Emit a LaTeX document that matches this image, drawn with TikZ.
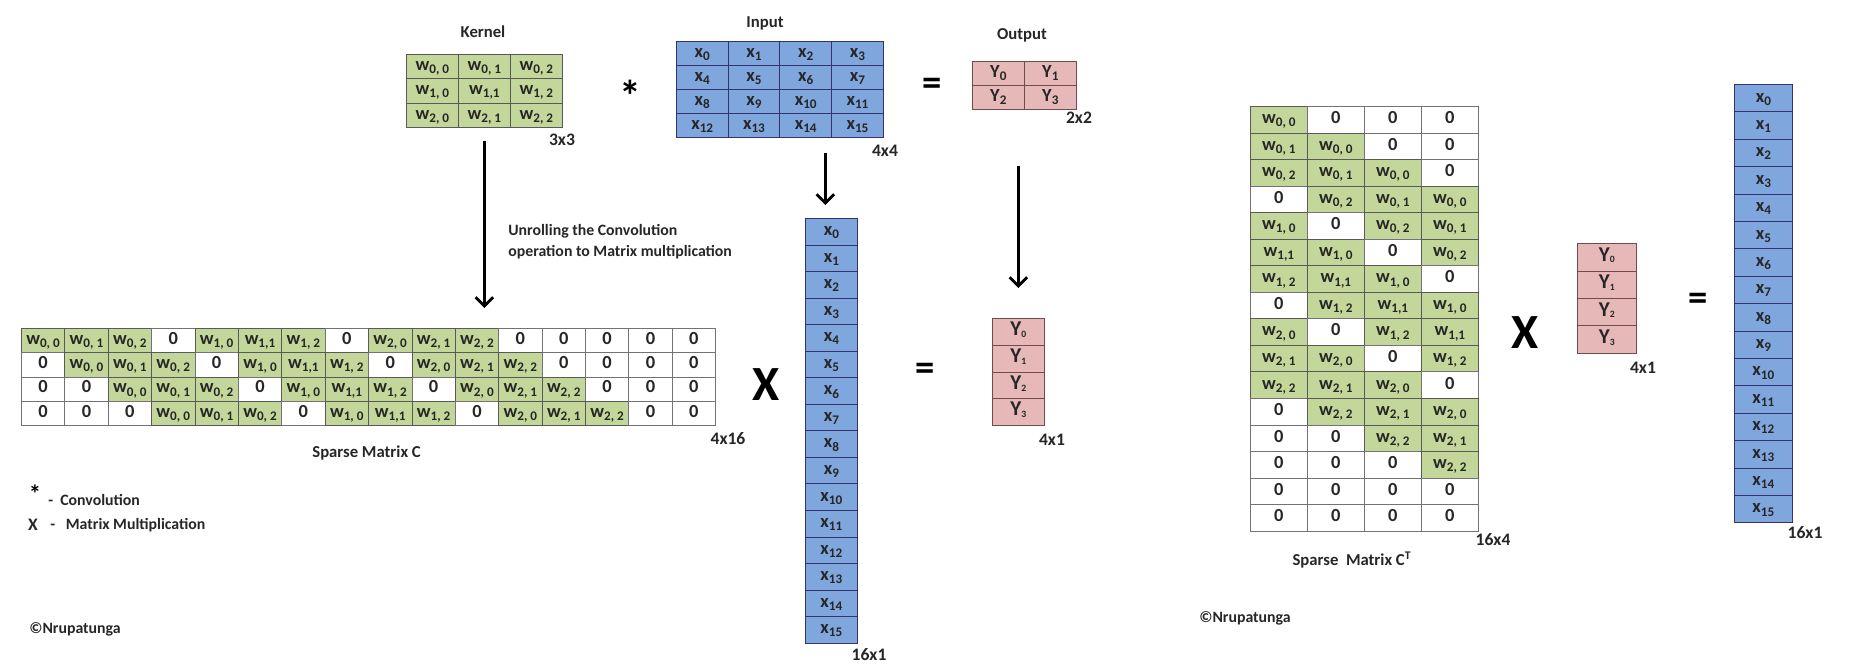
\documentclass[tikz,border=0pt]{standalone}
\usepackage{fontspec}
\setmainfont{Carlito}
\usetikzlibrary{positioning}
\usetikzlibrary{arrows.meta}
\usetikzlibrary{matrix}
\definecolor{wgreen}{RGB}{196,215,155}
\definecolor{xblue}{RGB}{127,166,221}
\definecolor{ypink}{RGB}{230,185,184}
\definecolor{ink}{RGB}{38,38,38}
\newcommand{\lowidx}[1]{\raisebox{-0.35ex}{\fontsize{7.5}{8}\selectfont #1}}
\newcommand{\wt}[1]{w\lowidx{#1}}
\newcommand{\xt}[1]{x\lowidx{#1}}
\newcommand{\yt}[1]{Y\lowidx{#1}}
\newcommand{\ysm}[1]{{\fontsize{12}{12}\selectfont Y}\raisebox{-0.2ex}{\fontsize{5.5}{6}\selectfont #1}}

\begin{document}
\begin{tikzpicture}[
    x=0.02cm, y=-0.02cm,
    cellgrid/.style 2 args={matrix of nodes, inner sep=0pt, outer sep=0pt,
        column sep=-\pgflinewidth, row sep=-\pgflinewidth,
        nodes={draw, minimum width=#1, minimum height=#2, inner sep=0pt, anchor=center,
            text height=1.45ex, text depth=0.5ex, text=ink, font=\bfseries\fontsize{10.5}{12}\selectfont}},
    wgrid/.style={nodes={fill=wgreen, draw=black!65}},
    xgrid/.style={nodes={fill=xblue, draw=blue!30!black!80}},
    ygrid/.style={nodes={fill=ypink, draw=red!20!black!70}},
    zc/.style={fill=white, draw=black!55},
    ttl/.style={inner sep=0pt, text=ink, font=\bfseries\fontsize{9.5}{11}\selectfont},
    dimlbl/.style={inner sep=0pt, text=ink, font=\bfseries\fontsize{10}{12}\selectfont},
    note/.style={inner sep=0pt, text=ink, align=left, font=\bfseries\fontsize{9}{12}\selectfont},
    opsym/.style={inner sep=0pt, font=\bfseries\fontsize{28}{30}\selectfont},
    arr/.style={line width=1.6pt, -{Straight Barb[length=5pt, width=10pt]}}
]
    \useasboundingbox (0,0) rectangle (1865,667);

    % convolution: kernel * input = output
    \matrix (kernel) [cellgrid={1.04cm}{0.486cm}, wgrid, anchor=north west] at (406,54) {
        \wt{0, 0} & \wt{0, 1} & \wt{0, 2} \\
        \wt{1, 0} & \wt{1,1}  & \wt{1, 2} \\
        \wt{2, 0} & \wt{2, 1} & \wt{2, 2} \\
    };
    \matrix (input) [cellgrid={1.035cm}{0.48cm}, xgrid, anchor=north west] at (676,41) {
        \xt{0}  & \xt{1}  & \xt{2}  & \xt{3}  \\
        \xt{4}  & \xt{5}  & \xt{6}  & \xt{7}  \\
        \xt{8}  & \xt{9}  & \xt{10} & \xt{11} \\
        \xt{12} & \xt{13} & \xt{14} & \xt{15} \\
    };
    \matrix (output) [cellgrid={1.04cm}{0.48cm}, ygrid, anchor=north west] at (972,61) {
        \yt{0} & \yt{1} \\
        \yt{2} & \yt{3} \\
    };
    \node[ttl] (kerneltitle) at (483,32) {Kernel};
    \node[ttl] (inputtitle) at (765,23) {Input};
    \node[ttl] (outputtitle) at (1022,35) {Output};
    \node[dimlbl] (kerneldim) at (562,140) {3x3};
    \node[dimlbl] (inputdim) at (885,151) {4x4};
    \node[dimlbl] (outputdim) at (1079,118) {2x2};
    \node[opsym, font=\bfseries\fontsize{25}{26}\selectfont] (conv) at (630,96) {*};
    \node[opsym, font=\bfseries\fontsize{22}{24}\selectfont] (eqtop) at (932,87) {=};

    % unrolled: sparse C x column = column
    \matrix (sparse) [cellgrid={0.868cm}{0.485cm}, wgrid, anchor=north west] at (21,328) {
        \wt{0, 0} & \wt{0, 1} & \wt{0, 2} & |[zc]| 0 & \wt{1, 0} & \wt{1,1} & \wt{1, 2} & |[zc]| 0 & \wt{2, 0} & \wt{2, 1} & \wt{2, 2} & |[zc]| 0 & |[zc]| 0 & |[zc]| 0 & |[zc]| 0 & |[zc]| 0 \\
        |[zc]| 0 & \wt{0, 0} & \wt{0, 1} & \wt{0, 2} & |[zc]| 0 & \wt{1, 0} & \wt{1,1} & \wt{1, 2} & |[zc]| 0 & \wt{2, 0} & \wt{2, 1} & \wt{2, 2} & |[zc]| 0 & |[zc]| 0 & |[zc]| 0 & |[zc]| 0 \\
        |[zc]| 0 & |[zc]| 0 & \wt{0, 0} & \wt{0, 1} & \wt{0, 2} & |[zc]| 0 & \wt{1, 0} & \wt{1,1} & \wt{1, 2} & |[zc]| 0 & \wt{2, 0} & \wt{2, 1} & \wt{2, 2} & |[zc]| 0 & |[zc]| 0 & |[zc]| 0 \\
        |[zc]| 0 & |[zc]| 0 & |[zc]| 0 & \wt{0, 0} & \wt{0, 1} & \wt{0, 2} & |[zc]| 0 & \wt{1, 0} & \wt{1,1} & \wt{1, 2} & |[zc]| 0 & \wt{2, 0} & \wt{2, 1} & \wt{2, 2} & |[zc]| 0 & |[zc]| 0 \\
    };
    \matrix (xcol) [cellgrid={1.04cm}{0.531cm}, xgrid, anchor=north west] at (805,218) {
        \xt{0} \\ \xt{1} \\ \xt{2} \\ \xt{3} \\ \xt{4} \\ \xt{5} \\ \xt{6} \\ \xt{7} \\
        \xt{8} \\ \xt{9} \\ \xt{10} \\ \xt{11} \\ \xt{12} \\ \xt{13} \\ \xt{14} \\ \xt{15} \\
    };
    \matrix (ycol) [cellgrid={1.04cm}{0.535cm}, ygrid, anchor=north west] at (992,318) {
        \ysm{0} \\ \ysm{1} \\ \ysm{2} \\ \ysm{3} \\
    };
    \node[note, anchor=west] (unroll) at (508,241.5) {Unrolling the Convolution\\operation to Matrix multiplication};
    \node[ttl, anchor=west] (sparsetitle) at (312,453) {Sparse Matrix C};
    \node[dimlbl] (sparsedim) at (728,439) {4x16};
    \node[dimlbl] (xcoldim) at (869,655) {16x1};
    \node[dimlbl] (ycoldim) at (1052,440) {4x1};
    \node[opsym] (mul) at (766,385) {X};
    \node[opsym, font=\bfseries\fontsize{22}{24}\selectfont] (eqmid) at (925,372) {=};

    \draw[arr, shorten <=0.26cm, shorten >=0.4cm] (kernel.south) -- (kernel.south |- sparse.north);
    \draw[arr, shorten <=0.3cm, shorten >=0.26cm] ([xshift=-0.12cm]xcol.north |- input.south) -- ([xshift=-0.12cm]xcol.north);
    \draw[arr, shorten <=1.12cm, shorten >=0.6cm] (ycol.north |- output.south) -- (ycol.north);

    % legend
    \node[opsym, font=\bfseries\fontsize{14}{16}\selectfont] (legstar) at (35,494) {*};
    \node[note, anchor=west] (legconv) at (48,500) {-\ \ Convolution};
    \node[note, font=\bfseries\fontsize{10}{12}\selectfont] (legx) at (33,525) {X};
    \node[note, anchor=west] (legmul) at (50,525) {-\ \ \ Matrix Multiplication};
    \node[note, anchor=west] (copyleft) at (29,629) {©Nrupatunga};

    % transposed: C^T x column = column
    \matrix (sparset) [cellgrid={1.14cm}{0.531cm}, wgrid, anchor=north west] at (1250,106) {
        \wt{0, 0} & |[zc]| 0 & |[zc]| 0 & |[zc]| 0 \\
        \wt{0, 1} & \wt{0, 0} & |[zc]| 0 & |[zc]| 0 \\
        \wt{0, 2} & \wt{0, 1} & \wt{0, 0} & |[zc]| 0 \\
        |[zc]| 0 & \wt{0, 2} & \wt{0, 1} & \wt{0, 0} \\
        \wt{1, 0} & |[zc]| 0 & \wt{0, 2} & \wt{0, 1} \\
        \wt{1,1} & \wt{1, 0} & |[zc]| 0 & \wt{0, 2} \\
        \wt{1, 2} & \wt{1,1} & \wt{1, 0} & |[zc]| 0 \\
        |[zc]| 0 & \wt{1, 2} & \wt{1,1} & \wt{1, 0} \\
        \wt{2, 0} & |[zc]| 0 & \wt{1, 2} & \wt{1,1} \\
        \wt{2, 1} & \wt{2, 0} & |[zc]| 0 & \wt{1, 2} \\
        \wt{2, 2} & \wt{2, 1} & \wt{2, 0} & |[zc]| 0 \\
        |[zc]| 0 & \wt{2, 2} & \wt{2, 1} & \wt{2, 0} \\
        |[zc]| 0 & |[zc]| 0 & \wt{2, 2} & \wt{2, 1} \\
        |[zc]| 0 & |[zc]| 0 & |[zc]| 0 & \wt{2, 2} \\
        |[zc]| 0 & |[zc]| 0 & |[zc]| 0 & |[zc]| 0 \\
        |[zc]| 0 & |[zc]| 0 & |[zc]| 0 & |[zc]| 0 \\
    };
    \matrix (ycolr) [cellgrid={1.18cm}{0.55cm}, ygrid, anchor=north west] at (1577,243) {
        \ysm{0} \\ \ysm{1} \\ \ysm{2} \\ \ysm{3} \\
    };
    \matrix (xcolr) [cellgrid={1.16cm}{0.548cm}, xgrid, anchor=north west] at (1734,84) {
        \xt{0} \\ \xt{1} \\ \xt{2} \\ \xt{3} \\ \xt{4} \\ \xt{5} \\ \xt{6} \\ \xt{7} \\
        \xt{8} \\ \xt{9} \\ \xt{10} \\ \xt{11} \\ \xt{12} \\ \xt{13} \\ \xt{14} \\ \xt{15} \\
    };
    \node[dimlbl] (sparsetdim) at (1493,540) {16x4};
    \node[ttl] (sparsettitle) at (1352,560) {Sparse\ \ Matrix C\textsuperscript{T}};
    \node[opsym] (mulr) at (1525,333) {X};
    \node[dimlbl] (ycolrdim) at (1643,368) {4x1};
    \node[opsym, font=\bfseries\fontsize{22}{24}\selectfont] (eqr) at (1698,302) {=};
    \node[dimlbl] (xcolrdim) at (1805,533) {16x1};
    \node[note] (copyright) at (1245,618) {©Nrupatunga};
\end{tikzpicture}
\end{document}
